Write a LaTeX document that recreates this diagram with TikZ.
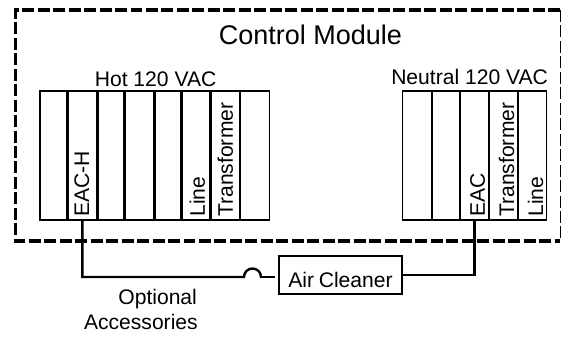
\documentclass[tikz,border=0pt]{standalone}
\usepackage{fontspec}
\setmainfont{Liberation Sans}
\tikzset{
	slot/.style={draw, line width=1.4pt, minimum height=3.225cm, inner sep=0pt},
	slotlabel/.style={rotate=90, anchor=base west, inner sep=0pt, font=\fontsize{15}{15}\selectfont},
	caption/.style={anchor=base, inner sep=0pt, font=\fontsize{15}{15}\selectfont},
	modulebox/.style={line width=2.4pt, dash pattern=on 8.5pt off 2.5pt},
}

\begin{document}
\begin{tikzpicture}
			\useasboundingbox (0,0) rectangle (14.1,8.425);
			\draw [modulebox] (14,8.175) -- (0.39,8.175) -- (0.39,2.4) -- (14,2.4);
			\draw [line width=0.7pt, dash pattern=on 8.5pt off 2.5pt] (14,8.175) -- (14,2.4);
			\node [caption, font=\fontsize{19.2}{19.2}\selectfont] (module) at (7.76, 7.3) {Control Module};
			\node [caption] (hot) at (3.89, 6.25) {Hot 120 VAC};
			\node [caption] (neutral) at (11.74, 6.3) {Neutral 120 VAC};
			% hot side
			\node [slot, minimum width=0.67cm] (hot1) at (1.3325, 4.5375) {};
			\node [slot, minimum width=0.735cm] (hot2) at (2.06, 4.5375) {};
			\node [slot, minimum width=0.645cm] (hot3) at (2.775, 4.5375) {};
			\node [slot, minimum width=0.735cm] (hot4) at (3.49, 4.5375) {};
			\node [slot, minimum width=0.645cm] (hot5) at (4.205, 4.5375) {};
			\node [slot, minimum width=0.705cm] (hot6) at (4.905, 4.5375) {};
			\node [slot, minimum width=0.705cm] (hot7) at (5.635, 4.5375) {};
			\node [slot, minimum width=0.725cm] (hot8) at (6.375, 4.5375) {};
			\node [slotlabel] (eachlabel) at (2.225, 3) {EAC-H};
			\node [slotlabel] (linehot) at (5.125, 3) {Line};
			\node [slotlabel] (transhot) at (5.825, 3) {Transformer};
			% neutral side
			\node [slot, minimum width=0.725cm] (neut1) at (10.425, 4.5375) {};
			\node [slot, minimum width=0.675cm] (neut2) at (11.15, 4.5375) {};
			\node [slot, minimum width=0.7cm] (neut3) at (11.8625, 4.5375) {};
			\node [slot, minimum width=0.7cm] (neut4) at (12.5875, 4.5375) {};
			\node [slot, minimum width=0.7cm] (neut5) at (13.3125, 4.5375) {};
			\node [slotlabel] (eaclabel) at (12.125, 3) {EAC};
			\node [slotlabel] (transneut) at (12.85, 3) {Transformer};
			\node [slotlabel] (lineneut) at (13.575, 3) {Line};
			% accessories
			\node [draw, line width=1.7pt, inner sep=0pt, text width=3.08cm, align=center, text height=0.8cm, text depth=0.15cm] (air) at (8.5125, 1.55) {\fontsize{15}{15}\selectfont Air Cleaner};
			\coordinate (jumpin) at (6.1, 1.5);
			\coordinate (jumpout) at (6.525, 1.5);
			\draw [line width=1.7pt] (hot2.south) |- (jumpin) arc (180:0:0.2125) -- (jumpout);
			\draw [line width=1.7pt, shorten >=0.08cm] (jumpout) -- (air.west |- jumpout);
			\draw [line width=2.1pt] (air.east) -| (neut3.south);
			\node [caption, anchor=base east] (optional) at (4.93, 0.8) {Optional};
			\node [caption, anchor=base east] (accessories) at (4.95, 0.175) {Accessories};
	\end{tikzpicture}
\end{document}
